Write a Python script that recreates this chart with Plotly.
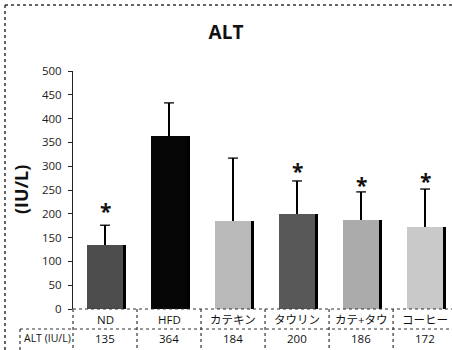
import plotly.graph_objects as go

categories = ["ND", "HFD", "カテキン", "タウリン", "カテ+タウ", "コーヒー"]
values = [135, 364, 184, 200, 186, 172]
errors_plus = [41, 69, 133, 69, 60, 80]
table_values = ["135", "364", "184", "200", "186", "172"]
star_positions = [216, None, None, 300, 271, 279]
bar_colors = ["#4d4d4d", "#050505", "#b9b9b9", "#585858", "#ababab", "#c9c9c9"]
y_ticks = [0, 50, 100, 150, 200, 250, 300, 350, 400, 450, 500]
row_label = "ALT (IU/L)"

W, H = 452, 350
L, R, T, B = 73, 0, 71, 41
pw, ph = W - L - R, H - T - B

def px_x(p):
    return (p - L) / pw

def px_y(p):
    return (H - B - p) / ph

FONT = "Open Sans, Noto Sans CJK JP, sans-serif"
xs = list(range(len(categories)))

fig = go.Figure()
# shadow bars (3D edge on right)
fig.add_trace(go.Bar(
    x=xs, y=values, width=0.05, offset=0.27,
    marker=dict(color="#000000", line=dict(width=0)),
    hoverinfo="skip", showlegend=False,
))
fig.add_trace(go.Bar(
    x=xs, y=values, width=0.56, offset=-0.28,
    marker=dict(color=bar_colors, line=dict(width=0)),
    error_y=dict(type="data", array=errors_plus, arrayminus=[0] * len(values),
                 symmetric=False, color="#000000", thickness=1.3, width=0),
    showlegend=False,
))
# error bar caps (top only)
fig.add_trace(go.Scatter(
    x=xs, y=[v + e for v, e in zip(values, errors_plus)], mode="markers",
    marker=dict(symbol="line-ew", size=7, line=dict(color="#000000", width=1.3)),
    hoverinfo="skip", showlegend=False,
))

annotations = []
# asterisks
for i, s in enumerate(star_positions):
    if s is None:
        continue
    annotations.append(dict(x=i, y=s, xref="x", yref="y", text="<b>*</b>",
                            showarrow=False, font=dict(size=21, color="#111", family=FONT),
                            xanchor="center", yanchor="middle", yshift=-5))

# table text
row1_y = px_y(319)
row2_y = px_y(338)
for i, c in enumerate(categories):
    annotations.append(dict(x=i, y=row1_y, xref="x", yref="paper", text=c, showarrow=False,
                            xanchor="center", yanchor="middle",
                            font=dict(size=11.5, color="#111", family=FONT)))
    annotations.append(dict(x=i, y=row2_y, xref="x", yref="paper", text=table_values[i],
                            showarrow=False, xanchor="center", yanchor="middle",
                            font=dict(size=11.5, color="#111", family=FONT)))
annotations.append(dict(x=px_x(47), y=row2_y, xref="paper", yref="paper", text=row_label,
                        showarrow=False, xanchor="center", yanchor="middle",
                        font=dict(size=10.5, color="#111", family=FONT)))
# y-axis title
annotations.append(dict(x=px_x(21), y=px_y(190), xref="paper", yref="paper", text="<b>(IU/L)</b>",
                        textangle=-90, showarrow=False, xanchor="center", yanchor="middle",
                        font=dict(size=18, color="#111", family=FONT)))

dot = dict(color="#333", width=1.2, dash="dot")
shapes = []
# zero / table top line
shapes.append(dict(type="line", xref="paper", yref="paper", x0=0, x1=1, y0=0, y1=0, line=dot))
# header / data row separator
shapes.append(dict(type="line", xref="paper", yref="paper", x0=px_x(20), x1=1,
                   y0=px_y(329), y1=px_y(329), line=dot))
# vertical dividers
for k in range(len(categories) - 1):
    shapes.append(dict(type="line", xref="x", yref="paper", x0=k + 0.5, x1=k + 0.5,
                       y0=0, y1=px_y(352), line=dot))
shapes.append(dict(type="line", xref="paper", yref="paper", x0=0, x1=0,
                   y0=0, y1=px_y(352), line=dot))
shapes.append(dict(type="line", xref="paper", yref="paper", x0=px_x(20), x1=px_x(20),
                   y0=px_y(329), y1=px_y(352), line=dot))
# outer border
border = dict(color="#333", width=1.5, dash="dot")
shapes.append(dict(type="line", xref="paper", yref="paper", x0=px_x(5), x1=px_x(455),
                   y0=px_y(5), y1=px_y(5), line=border))
shapes.append(dict(type="line", xref="paper", yref="paper", x0=px_x(5), x1=px_x(5),
                   y0=px_y(5), y1=px_y(355), line=border))

fig.update_layout(
    width=W, height=H,
    margin=dict(l=L, r=R, t=T, b=B),
    paper_bgcolor="white", plot_bgcolor="white",
    barmode="overlay",
    title=dict(text="<b>ALT</b>", x=px_x(226), xref="paper", xanchor="center",
               y=1 - 32 / H, yanchor="middle",
               font=dict(size=19, color="#111", family=FONT)),
    xaxis=dict(range=[-0.5, 5.42], showticklabels=False, showline=False, showgrid=False,
               zeroline=False, ticks="", fixedrange=True),
    yaxis=dict(range=[0, 500], tickvals=y_ticks, showgrid=False, zeroline=False,
               showline=True, linecolor="#222", linewidth=1, ticks="outside", ticklen=4,
               tickcolor="#222", ticklabelstandoff=4,
               tickfont=dict(size=11.5, color="#222", family=FONT)),
    annotations=annotations,
    shapes=shapes,
    bargap=0,
)

fig.write_html("out.html", config={"displayModeBar": False},
               post_script="document.body.style.margin='0';")
